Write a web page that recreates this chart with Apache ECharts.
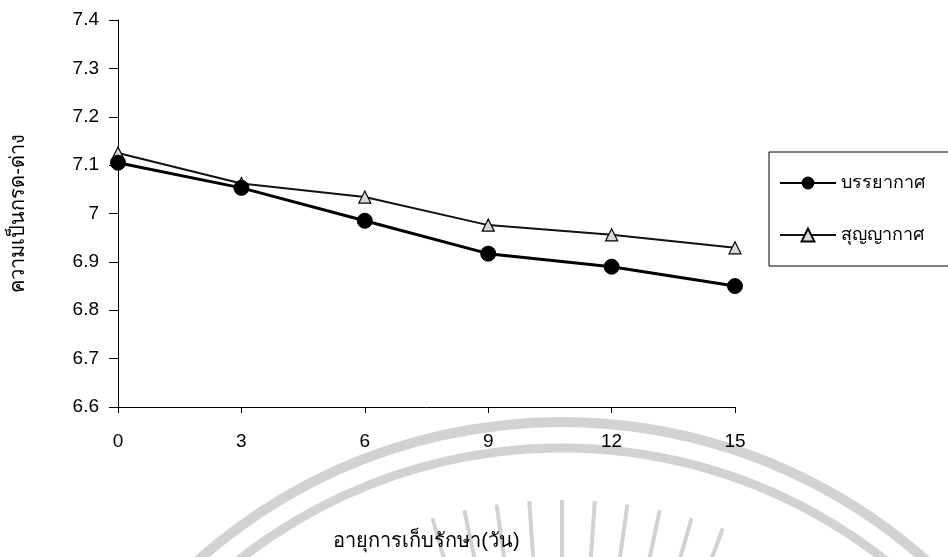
<!DOCTYPE html>
<html><head><meta charset="utf-8">
<script src="https://cdn.jsdelivr.net/npm/echarts@6/dist/echarts.min.js"></script>
<style>html,body{margin:0;padding:0;background:#fff}#c{width:948px;height:557px}</style>
</head><body><div id="c"></div>
<script>
const days = [0, 3, 6, 9, 12, 15];
const airValues = [7.105, 7.053, 6.985, 6.917, 6.890, 6.850];
const vacuumValues = [7.125, 7.062, 7.034, 6.976, 6.956, 6.929];
const seriesNames = ['บรรยากาศ', 'สุญญากาศ'];
const xTitle = 'อายุการเก็บรักษา(วัน)';
const yTitle = 'ความเป็นกรด-ด่าง';

const font = '"Liberation Sans", Arial, "Noto Sans", sans-serif';
const wmColor = '#d2d2d2';
const wm = [
  { type: 'arc', silent: true, z: -10,
    shape: { cx: 562, cy: 970, r: 548, startAngle: Math.PI * 1.05, endAngle: Math.PI * 1.95 },
    style: { stroke: wmColor, lineWidth: 10, fill: null } },
  { type: 'arc', silent: true, z: -10,
    shape: { cx: 562, cy: 970, r: 522, startAngle: Math.PI * 1.08, endAngle: Math.PI * 1.92 },
    style: { stroke: wmColor, lineWidth: 9, fill: null } }
];
for (let a = -106; a <= -70; a += 4) {
  const t = a * Math.PI / 180;
  wm.push({ type: 'line', silent: true, z: -10,
    shape: { x1: 562 + 380 * Math.cos(t), y1: 970 + 380 * Math.sin(t),
             x2: 562 + 470 * Math.cos(t), y2: 970 + 470 * Math.sin(t) },
    style: { stroke: wmColor, lineWidth: 4 } });
}

const chart = echarts.init(document.getElementById('c'));
chart.setOption({
  backgroundColor: '#fff',
  animation: false,
  textStyle: { fontFamily: font, color: '#000' },
  graphic: wm,
  grid: { left: 116, right: 213, top: 20, bottom: 150 },
  xAxis: {
    type: 'value', min: 0, max: 15, interval: 3,
    axisLine: { lineStyle: { color: '#000', width: 1 } },
    axisTick: { show: true, inside: false, length: 6, lineStyle: { color: '#000' } },
    axisLabel: { color: '#000', fontSize: 19, margin: 25, fontFamily: font },
    splitLine: { show: false },
    name: xTitle, nameLocation: 'middle', nameGap: 124,
    nameTextStyle: { color: '#000', fontSize: 20, fontFamily: font }
  },
  yAxis: {
    type: 'value', min: 6.6, max: 7.4, interval: 0.1,
    axisLine: { show: true, lineStyle: { color: '#000', width: 1 } },
    axisTick: { show: true, length: 9, lineStyle: { color: '#000' } },
    axisLabel: { color: '#000', fontSize: 19, margin: 19, fontFamily: font,
      formatter: v => { const r = Math.round(v * 10) / 10; return r === 7 ? '7' : r.toFixed(1); } },
    splitLine: { show: false },
    name: yTitle, nameLocation: 'middle', nameGap: 90, nameRotate: 90,
    nameTextStyle: { color: '#000', fontSize: 20, fontFamily: font }
  },
  legend: {
    orient: 'vertical', left: 769, top: 152,
    padding: [22, 60, 22, 10],
    borderColor: '#000', borderWidth: 1,
    itemWidth: 56, itemHeight: 16, itemGap: 34,
    textStyle: { color: '#000', fontSize: 18, fontFamily: font },
    data: seriesNames
  },
  series: [
    {
      name: seriesNames[0], type: 'line',
      data: days.map((d, i) => [d, airValues[i]]),
      symbol: 'circle', symbolSize: 15,
      lineStyle: { color: '#000', width: 3 },
      itemStyle: { color: '#000', borderColor: '#000' },
      z: 3
    },
    {
      name: seriesNames[1], type: 'line',
      data: days.map((d, i) => [d, vacuumValues[i]]),
      symbol: 'triangle', symbolSize: 12,
      lineStyle: { color: '#111', width: 2 },
      itemStyle: { color: '#d8d8d8', borderColor: '#000', borderWidth: 1.2 },
      z: 2
    }
  ]
});
</script></body></html>
